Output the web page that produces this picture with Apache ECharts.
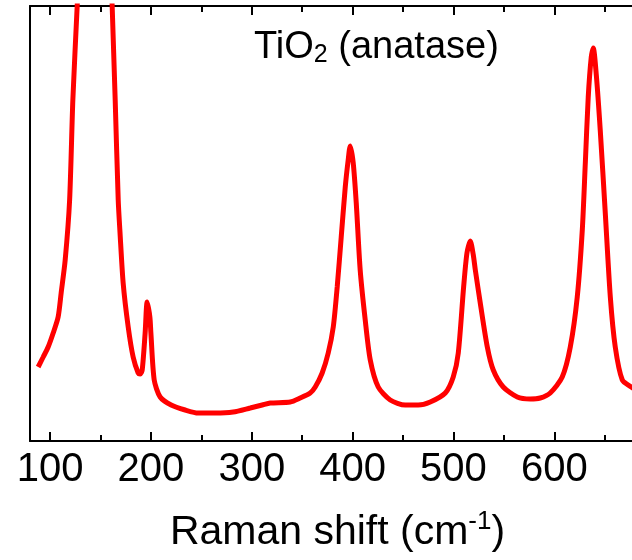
<!DOCTYPE html>
<html>
<head>
<meta charset="utf-8">
<script src="https://cdn.jsdelivr.net/npm/echarts@6/dist/echarts.min.js"></script>
<style>
  html, body { margin: 0; padding: 0; background: #fff; }
  #chart { width: 632px; height: 560px; }
</style>
</head>
<body>
<div id="chart"></div>
<script>
// Raman spectrum of TiO2 (anatase) (arbitrary intensity units)
const ramanShift = [
  88.1, 93.1, 98.0, 103.0, 107.9, 110.9, 114.9, 119.3, 122.5, 126.8,
  128.8, 144.5, 159.5, 161.5, 164.5, 167.5, 169.3, 172.4, 177.4, 182.3,
  187.3, 189.3, 191.3, 194.2, 196.2, 198.9, 199.9, 203.2, 209.1, 220.0,
  233.9, 246.8, 263.7, 281.5, 298.4, 310.3, 318.3, 338.1, 348.0, 357.9,
  362.9, 369.8, 375.8, 380.8, 384.7, 388.7, 392.7, 395.6, 397.6, 400.6,
  403.6, 407.5, 412.5, 417.5, 425.4, 437.3, 452.2, 465.1, 477.0, 491.9,
  499.8, 504.8, 510.1, 513.4, 516.7, 519.7, 521.7, 526.6, 533.6, 539.5,
  549.4, 563.3, 576.2, 586.1, 596.0, 607.9, 615.9, 622.8, 627.8, 630.8,
  633.7, 636.7, 638.7, 641.7, 645.6, 650.6, 655.6, 660.5, 667.5, 676.4,
  682.0
];
const intensity = [
  74, 84, 94, 108, 124, 148, 181, 241, 341, 435,
  478, 1100, 499, 435, 341, 241, 208, 158, 114, 84,
  68, 67, 71, 108, 139, 124, 108, 61, 44, 36,
  31, 28, 28, 29, 33, 36, 38, 39, 43, 48,
  54, 68, 88, 114, 154, 204, 254, 281, 295, 278,
  238, 171, 121, 81, 54, 41, 36, 36, 39, 48,
  64, 88, 154, 188, 200, 186, 171, 138, 94, 71,
  54, 44, 42, 43, 48, 64, 94, 144, 211, 278,
  344, 384, 393, 366, 311, 228, 144, 94, 61, 54,
  50
];

const font = 'Liberation Sans, Arial, sans-serif'

let chart = echarts.init(document.getElementById('chart'), null, {renderer: 'canvas'})

let points = ramanShift.map((x, i) => [x, intensity[i]])

// shared look of the bottom and top frame axes
let frameAxis = {
  type: 'value',
  min: 80,
  max: 690,
  splitNumber: 5,
  axisLine: {show: true, lineStyle: {color: '#000', width: 2}},
  axisTick: {show: true, inside: true, length: 9, lineStyle: {color: '#000', width: 2}},
  minorTick: {show: true, splitNumber: 2, length: 6, lineStyle: {color: '#000', width: 2}},
  splitLine: {show: false}
}

chart.setOption({
  animation: false,
  backgroundColor: '#fff',
  title: {
    text: 'TiO{sub|2} (anatase)',
    left: 249,
    top: 22,
    textStyle: {
      fontFamily: font,
      fontSize: 38,
      fontWeight: 'normal',
      color: '#000',
      rich: {
        sub: {fontFamily: font, fontSize: 25, color: '#000', padding: [16, 0, 0, 0]}
      }
    }
  },
  grid: {left: 30, right: -13, top: 6, bottom: 119, outerBoundsMode: 'none', containLabel: false},
  xAxis: [
    Object.assign({}, frameAxis, {
      position: 'bottom',
      name: 'Raman shift (cm{sup|-1})',
      nameLocation: 'middle',
      nameGap: 68,
      nameTextStyle: {
        fontFamily: font,
        fontSize: 41,
        color: '#000',
        rich: {
          sup: {fontFamily: font, fontSize: 26, color: '#000', padding: [0, 0, 22, 0]}
        }
      },
      axisLabel: {
        fontFamily: font, fontSize: 40, color: '#000', margin: 9,
        showMinLabel: false, showMaxLabel: false
      }
    }),
    Object.assign({}, frameAxis, {
      position: 'top',
      axisLabel: {show: false}
    })
  ],
  yAxis: {
    type: 'value',
    min: 0,
    max: 435,
    axisLine: {show: true, lineStyle: {color: '#000', width: 2}},
    axisTick: {show: false},
    axisLabel: {show: false},
    splitLine: {show: false}
  },
  series: [{
    type: 'line',
    xAxisIndex: 0,
    data: points,
    showSymbol: false,
    smooth: 0.25,
    clip: true,
    lineStyle: {color: '#ff0000', width: 5}
  }]
})
</script>
</body>
</html>
